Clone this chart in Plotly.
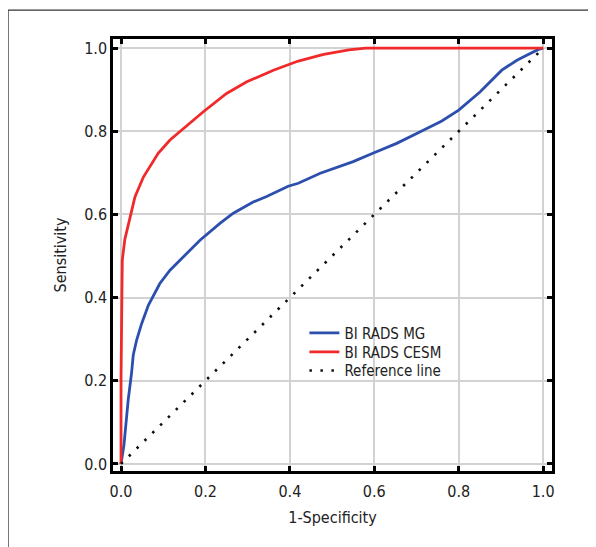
import plotly.graph_objects as go

# BI RADS CESM ROC curve (1-specificity, sensitivity)
cesm_x = [0.0, 0.0, 0.002, 0.003, 0.009, 0.021, 0.033, 0.053, 0.069, 0.088, 0.116, 0.148,
          0.195, 0.25, 0.298, 0.361, 0.42, 0.48, 0.54, 0.58, 1.0]
cesm_y = [0.0, 0.20, 0.40, 0.49, 0.54, 0.594, 0.642, 0.69, 0.715, 0.747, 0.779, 0.807,
          0.847, 0.891, 0.919, 0.947, 0.969, 0.985, 0.996, 1.0, 1.0]

# BI RADS MG ROC curve
mg_x = [0.0, 0.007, 0.012, 0.017, 0.025, 0.029, 0.037, 0.049, 0.065, 0.077, 0.092, 0.116,
        0.148, 0.187, 0.235, 0.266, 0.313, 0.345, 0.396, 0.42, 0.472, 0.55, 0.598, 0.653,
        0.709, 0.76, 0.8, 0.851, 0.902, 0.938, 0.961, 0.989, 1.0]
mg_y = [0.0, 0.046, 0.10, 0.154, 0.219, 0.262, 0.298, 0.338, 0.382, 0.406, 0.434, 0.466,
        0.498, 0.538, 0.579, 0.603, 0.63, 0.643, 0.668, 0.675, 0.699, 0.727, 0.748, 0.771,
        0.799, 0.825, 0.851, 0.895, 0.947, 0.971, 0.983, 0.997, 1.0]

ref_x = [0.0, 1.0]
ref_y = [0.0, 1.0]

tick_vals = [0.0, 0.2, 0.4, 0.6, 0.8, 1.0]
tick_text = ["0.0", "0.2", "0.4", "0.6", "0.8", "1.0"]

FONT = "DejaVu Sans Condensed, Liberation Sans Narrow, Roboto Condensed, Roboto, sans-serif"
TXT = "#222222"

fig = go.Figure()
fig.add_trace(go.Scatter(x=mg_x, y=mg_y, mode="lines", name="BI RADS MG", legend="legend",
                         line=dict(color="#2c4fae", width=2.8)))
fig.add_trace(go.Scatter(x=cesm_x, y=cesm_y, mode="lines", name="BI RADS CESM", legend="legend2",
                         line=dict(color="#f02a2a", width=2.8)))
fig.add_trace(go.Scatter(x=ref_x, y=ref_y, mode="lines", name="Reference line", legend="legend3",
                         line=dict(color="#111111", width=2.6, dash="2.5px,8.5px")))

axis_common = dict(
    showline=True, linecolor="black", linewidth=2.5, mirror="ticks",
    ticks="inside", ticklen=5, tickwidth=2.5, tickcolor="black",
    showgrid=True, gridcolor="#d2d2d2", gridwidth=2, zeroline=False,
    tickvals=tick_vals, ticktext=tick_text,
    tickfont=dict(family=FONT, size=16, color=TXT),
)

legend_common = dict(x=0.436, xanchor="left", yanchor="middle", bgcolor="rgba(0,0,0,0)",
                     font=dict(family=FONT, size=15, color=TXT), itemwidth=30)

fig.update_layout(
    width=596, height=547,
    margin=dict(l=105, r=52, t=31, b=84),
    paper_bgcolor="white", plot_bgcolor="white",
    font=dict(family=FONT, size=16, color=TXT),
    xaxis=dict(range=[-0.019, 1.021], ticklabelstandoff=4,
               title=dict(text="1-Specificity", font=dict(family=FONT, size=16), standoff=12),
               **axis_common),
    yaxis=dict(range=[-0.017, 1.022],
               title=dict(text="Sensitivity", font=dict(family=FONT, size=16), standoff=14),
               **axis_common),
    legend=dict(y=0.319, **legend_common),
    legend2=dict(y=0.275, **legend_common),
    legend3=dict(y=0.232, **legend_common),
    showlegend=True,
    shapes=[
        dict(type="line", xref="paper", yref="paper", x0=-0.239, x1=-0.239, y0=1.067, y1=-0.25,
             line=dict(color="#333333", width=1.2)),
        dict(type="line", xref="paper", yref="paper", x0=-0.239, x1=1.2, y0=1.067, y1=1.067,
             line=dict(color="#333333", width=1.2)),
    ],
)

fig.write_html("out.html")
